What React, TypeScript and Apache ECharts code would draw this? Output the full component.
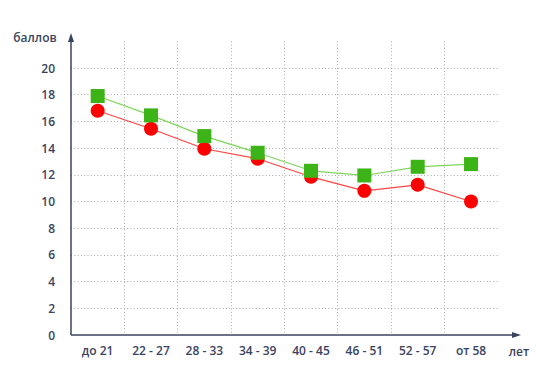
import React, { useEffect, useRef } from "react";
import * as echarts from "echarts";

const categories = ["до 21", "22 - 27", "28 - 33", "34 - 39", "40 - 45", "46 - 51", "52 - 57", "от 58"];
const greenValues = [17.9, 16.45, 14.9, 13.65, 12.3, 11.95, 12.6, 12.8];
const redValues = [16.8, 15.45, 13.95, 13.2, 11.85, 10.8, 11.25, 10.0];
const yTicks = { min: 0, max: 22, interval: 2 };

const AXIS = "#3a4360";
const FONT = "'Open Sans', 'Liberation Sans', sans-serif";
const GRID_LINE = { color: "#a8a8a8", type: [1, 2.3], width: 1 };

export default function App() {
  const ref = useRef<HTMLDivElement>(null);
  useEffect(() => {
    if (!ref.current) return;
    const chart = echarts.init(ref.current, null, { renderer: "svg" });
    chart.setOption({
      animation: false,
      grid: { left: 71, right: 52.3, top: 41.3, bottom: 46 },
      xAxis: {
        type: "category",
        data: categories,
        boundaryGap: true,
        axisLine: { show: false },
        axisTick: { show: false },
        axisLabel: { color: AXIS, fontFamily: FONT, fontWeight: 600, fontSize: 12, margin: 9 },
        splitLine: { show: true, showMinLine: false, showMaxLine: false, lineStyle: GRID_LINE },
      },
      yAxis: {
        type: "value",
        min: yTicks.min,
        max: yTicks.max,
        interval: yTicks.interval,
        axisLine: { show: false },
        axisTick: { show: false },
        axisLabel: {
          color: AXIS,
          fontFamily: FONT,
          fontWeight: 600,
          fontSize: 12,
          margin: 16,
          showMaxLabel: false,
        },
        splitLine: { show: true, showMinLine: false, showMaxLine: false, lineStyle: GRID_LINE },
      },
      graphic: [
        { type: "line", shape: { x1: 71, y1: 335, x2: 516, y2: 335 }, style: { stroke: AXIS, lineWidth: 1.5 }, z: 100 },
        { type: "polygon", shape: { points: [[512, 332], [521, 335], [512, 338]] }, style: { fill: AXIS }, z: 100 },
        { type: "line", shape: { x1: 71, y1: 335, x2: 71, y2: 38 }, style: { stroke: AXIS, lineWidth: 1.5 }, z: 100 },
        { type: "polygon", shape: { points: [[68, 42], [71, 33], [74, 42]] }, style: { fill: AXIS }, z: 100 },
        {
          type: "text",
          x: 35,
          y: 37,
          style: { text: "баллов", fill: AXIS, font: `600 12px ${FONT}`, align: "center", verticalAlign: "middle" },
        },
        {
          type: "text",
          x: 519,
          y: 351,
          style: { text: "лет", fill: AXIS, font: `600 12px ${FONT}`, align: "center", verticalAlign: "middle" },
        },
      ],
      series: [
        {
          type: "line",
          data: redValues,
          symbol: "circle",
          symbolSize: 14,
          lineStyle: { color: "#ff4444", width: 1.2 },
          itemStyle: { color: "#ff0000" },
          z: 3,
        },
        {
          type: "line",
          data: greenValues,
          symbol: "rect",
          symbolSize: 14,
          lineStyle: { color: "#7fd65a", width: 1.2 },
          itemStyle: { color: "#3cb316" },
          z: 4,
        },
      ],
    });
    return () => chart.dispose();
  }, []);
  return <div ref={ref} style={{ width: 550, height: 381, position: "absolute", left: 0, top: 0 }} />;
}
